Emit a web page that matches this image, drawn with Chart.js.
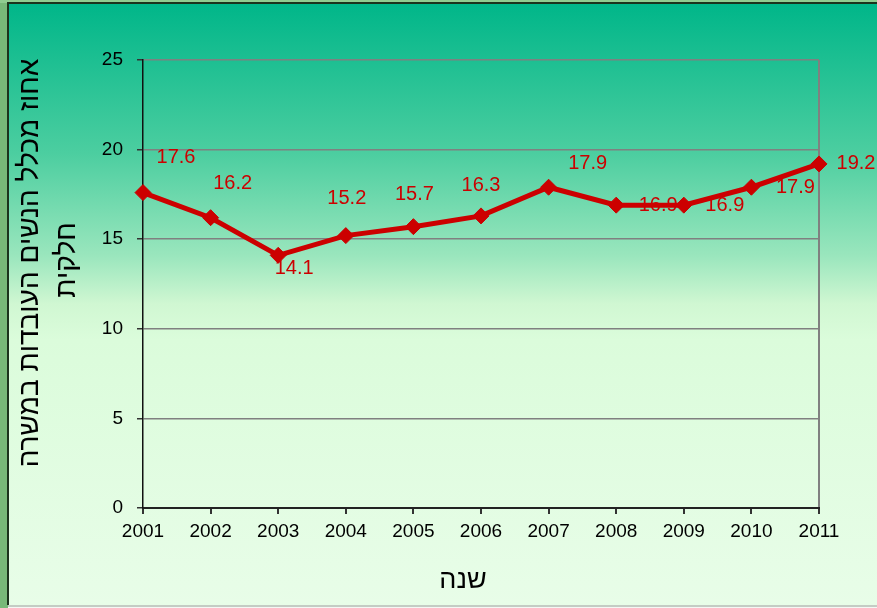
<!DOCTYPE html>
<html><head><meta charset="utf-8">
<script src="https://cdn.jsdelivr.net/npm/chart.js@4.4.0/dist/chart.umd.min.js"></script>
<style>html,body{margin:0;padding:0;background:#78b878;overflow:hidden} canvas{display:block}</style>
</head><body>
<canvas id="c" width="877" height="608"></canvas>
<script>
const years = ['2001','2002','2003','2004','2005','2006','2007','2008','2009','2010','2011'];
const partTimeShare = [17.6, 16.2, 14.1, 15.2, 15.7, 16.3, 17.9, 16.9, 16.9, 17.9, 19.2];
const yTickValues = [0, 5, 10, 15, 20, 25];
const yTitleLines = ['אחוז מכלל הנשים העובדות במשרה', 'חלקית'];
const xTitleText = 'שנה';
// label placement nudges (style, not data)
const labelNudge = [[33,-35],[22,-34],[16,13],[1,-37],[1,-32],[0,-30],[39,-24],[42,0],[41,0],[44,0],[37,0]];

const FONT = '"Liberation Sans", Arial, "DejaVu Sans", sans-serif';

const frame = {
  id: 'frame',
  beforeDraw(chart) {
    const ctx = chart.ctx, W = chart.width, H = chart.height;
    ctx.save();
    ctx.fillStyle = '#78b878';
    ctx.fillRect(0, 0, W, H);
    ctx.fillStyle = '#90cc90';
    ctx.fillRect(0, 0, W, 3);
    const g = ctx.createLinearGradient(0, 3, 0, 605);
    g.addColorStop(0, '#00b689');
    g.addColorStop(0.25, '#4ccea0');
    g.addColorStop(0.42, '#9ae6bd');
    g.addColorStop(0.5, '#d0f7d2');
    g.addColorStop(0.56, '#dbfcdb');
    g.addColorStop(1, '#e8fde8');
    ctx.fillStyle = g;
    ctx.fillRect(8, 3, W - 8, 602);
    ctx.fillStyle = '#1c331c';
    ctx.fillRect(7, 3, 2, 602);
    ctx.fillRect(7, 2, W - 7, 2);
    ctx.fillStyle = '#c4ccc4';
    ctx.fillRect(8, 605, W - 8, 2);
    ctx.fillStyle = '#f4f8f4';
    ctx.fillRect(8, 607, W - 8, 1);
    ctx.restore();
  }
};

const texts = {
  id: 'texts',
  afterDatasetsDraw(chart) {
    const ctx = chart.ctx;
    const meta = chart.getDatasetMeta(0);
    ctx.save();
    ctx.font = '20px ' + FONT;
    ctx.fillStyle = '#cc0000';
    ctx.textAlign = 'center';
    ctx.textBaseline = 'middle';
    meta.data.forEach((pt, i) => {
      const [dx, dy] = labelNudge[i];
      ctx.fillText(partTimeShare[i].toFixed(1), pt.x + dx, pt.y + dy);
    });
    ctx.restore();
  },
  afterDraw(chart) {
    const ctx = chart.ctx;
    ctx.save();
    ctx.fillStyle = '#000';
    ctx.font = '28px ' + FONT;
    ctx.textAlign = 'center';
    ctx.textBaseline = 'middle';
    const pos = [[30, 263], [67, 260]];
    yTitleLines.forEach((t, i) => {
      ctx.save();
      ctx.translate(pos[i][0], pos[i][1]);
      ctx.rotate(-Math.PI / 2);
      ctx.fillText(t, 0, 0);
      ctx.restore();
    });
    ctx.font = '27px ' + FONT;
    ctx.fillText(xTitleText, 463, 581);
    ctx.restore();
  }
};

new Chart(document.getElementById('c'), {
  type: 'line',
  data: {
    labels: years,
    datasets: [{
      data: partTimeShare,
      borderColor: '#cc0000',
      backgroundColor: '#cc0000',
      borderWidth: 5,
      pointStyle: 'rectRot',
      pointRadius: 8,
      pointBackgroundColor: '#cc0000',
      pointBorderColor: '#cc0000',
      pointBorderWidth: 1,
      tension: 0,
      clip: false
    }]
  },
  options: {
    responsive: false,
    animation: false,
    devicePixelRatio: 1,
    layout: { padding: { left: 8, top: 60, right: 58, bottom: 0 } },
    plugins: { legend: { display: false }, tooltip: { enabled: false } },
    scales: {
      x: {
        type: 'category',
        offset: false,
        grid: {
          color: c => (c.index === years.length - 1 ? '#808080' : 'rgba(0,0,0,0)'),
          lineWidth: 2,
          tickColor: '#333',
          tickLength: 6
        },
        border: { color: '#222', width: 2 },
        ticks: { color: '#000', font: { family: FONT, size: 19 }, padding: 6, maxRotation: 0, autoSkip: false },
        afterFit: s => { s.height = 100; }
      },
      y: {
        min: 0, max: 25,
        afterBuildTicks: s => { s.ticks = yTickValues.map(v => ({ value: v })); },
        grid: { color: '#808080', lineWidth: 1.5, tickColor: '#333', tickLength: 6 },
        border: { color: '#111', width: 1.5 },
        ticks: { color: '#000', font: { family: FONT, size: 19 }, padding: 14 },
        afterFit: s => { s.width = 135; }
      }
    }
  },
  plugins: [frame, texts]
});
</script>
</body></html>
